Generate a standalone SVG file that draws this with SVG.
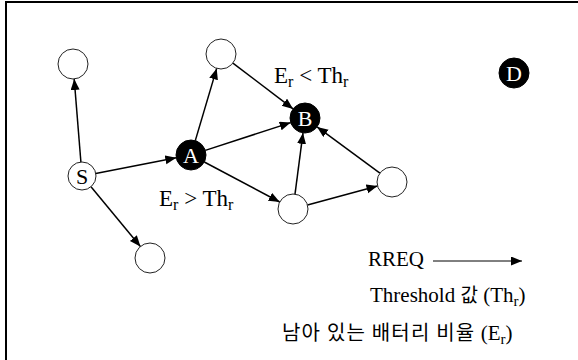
<svg xmlns="http://www.w3.org/2000/svg" width="578" height="360" viewBox="0 0 578 360">
<defs>
<marker id="ah" markerUnits="userSpaceOnUse" markerWidth="12" markerHeight="10" refX="11" refY="4.5" orient="auto">
<path d="M0,0 L11,4.5 L0,9 z" fill="#000"/>
</marker>
<style>
.edge{stroke:#000;stroke-width:1.5;fill:none;marker-end:url(#ah)}
.wn{fill:#fff;stroke:#222;stroke-width:1}
.bn{fill:#000;stroke:#000;stroke-width:1}
.lt{font-family:"Liberation Serif","Times New Roman",serif;font-size:22px;fill:#fff;text-anchor:middle}
.dt{font-family:"Liberation Serif","Times New Roman",serif;font-size:22px;fill:#000;text-anchor:middle}
.lab{font-family:"Liberation Serif","Times New Roman",serif;font-size:23px;fill:#000}
.leg{font-family:"Liberation Serif","Times New Roman",serif;font-size:21px;fill:#000}
.kr{font-family:"Noto Sans CJK KR","Noto Sans",sans-serif;font-size:19px;fill:#000}
.kr2{font-family:"Noto Sans CJK KR","Noto Sans",sans-serif;font-size:20px;letter-spacing:1.2px;fill:#000}
</style>
</defs>
<rect x="6" y="2" width="600" height="400" fill="#fff" stroke="#000" stroke-width="2"/>
<g id="connectors">
<line class="edge" x1="80.9" y1="162" x2="74.2" y2="79"/>
<line class="edge" x1="95.7" y1="173.4" x2="176.3" y2="157.8"/>
<line class="edge" x1="91" y1="186.8" x2="140.4" y2="246.5"/>
<line class="edge" x1="195.3" y1="140.6" x2="216.7" y2="68.4"/>
<line class="edge" x1="205.3" y1="150.4" x2="290.7" y2="122.6"/>
<line class="edge" x1="204.3" y1="162" x2="279.7" y2="202"/>
<line class="edge" x1="232.9" y1="63.1" x2="293.1" y2="108.9"/>
<line class="edge" x1="295" y1="194.1" x2="303" y2="132.9"/>
<line class="edge" x1="379.9" y1="173.1" x2="317.1" y2="126.9"/>
<line class="edge" x1="307.5" y1="205" x2="377.5" y2="186"/>
</g>
<g id="n-topleft"><circle class="wn" cx="73" cy="64" r="15"/></g>
<g id="n-topmid"><circle class="wn" cx="221" cy="54" r="15"/></g>
<g id="n-S"><circle class="wn" cx="82" cy="176" r="14"/><text class="dt" x="82" y="184">S</text></g>
<g id="n-A"><circle class="bn" cx="191" cy="155" r="15"/><text class="lt" x="191" y="163">A</text></g>
<g id="n-B"><circle class="bn" cx="305" cy="118" r="15"/><text class="lt" x="305" y="126">B</text></g>
<g id="n-D"><circle class="bn" cx="514" cy="73" r="15"/><text class="lt" x="514" y="81">D</text></g>
<g id="n-botmid"><circle class="wn" cx="293" cy="209" r="15"/></g>
<g id="n-right"><circle class="wn" cx="392" cy="182" r="15"/></g>
<g id="n-botleft"><circle class="wn" cx="150" cy="258" r="15"/></g>
<g id="labels">
<text class="lab" x="274" y="83">E<tspan font-size="16" dy="4">r</tspan><tspan dy="-4"> &lt; Th</tspan><tspan font-size="16" dy="4">r</tspan></text>
<text class="lab" x="159" y="206">E<tspan font-size="16" dy="4">r</tspan><tspan dy="-4"> &gt; Th</tspan><tspan font-size="16" dy="4">r</tspan></text>
</g>
<g id="legend">
<text class="leg" x="368" y="266">RREQ</text>
<line x1="433" y1="261" x2="522" y2="261" stroke="#000" stroke-width="1" marker-end="url(#ah)"/>
<text class="leg" x="370" y="302">Threshold <tspan class="kr">값</tspan> (Th<tspan font-size="15" dy="4">r</tspan><tspan dy="-4">)</tspan></text>
<text x="282" y="340"><tspan class="kr2">남아 있는 배터리 비율</tspan><tspan class="leg"> (E<tspan font-size="15" dy="4">r</tspan><tspan dy="-4">)</tspan></tspan></text>
</g>
</svg>
